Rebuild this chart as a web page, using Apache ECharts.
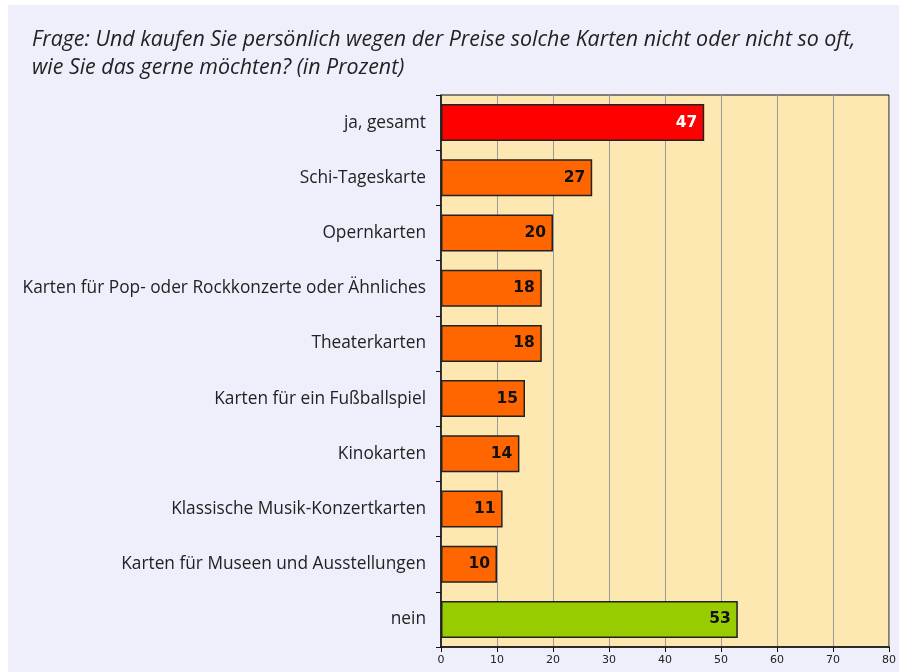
<!DOCTYPE html>
<html><head><meta charset="utf-8">
<script src="https://cdn.jsdelivr.net/npm/echarts@6/dist/echarts.min.js"></script>
<style>
html,body{margin:0;padding:0;background:#ffffff;}
#c{position:absolute;left:8px;top:5px;width:891px;height:667px;}
</style></head>
<body><div id="c"></div>
<script>
const titleText = 'Frage: Und kaufen Sie persönlich wegen der Preise solche Karten nicht oder nicht so oft,\nwie Sie das gerne möchten? (in Prozent)';
const categories = ['ja, gesamt','Schi-Tageskarte','Opernkarten','Karten für Pop- oder Rockkonzerte oder Ähnliches','Theaterkarten','Karten für ein Fußballspiel','Kinokarten','Klassische Musik-Konzertkarten','Karten für Museen und Ausstellungen','nein'];
const values = [47,27,20,18,18,15,14,11,10,53];
const barColors = ['#ff0000','#ff6600','#ff6600','#ff6600','#ff6600','#ff6600','#ff6600','#ff6600','#ff6600','#99cc00'];
const labelColors = ['#ffffff','#111111','#111111','#111111','#111111','#111111','#111111','#111111','#111111','#111111'];
const xMin = 0, xMax = 80, xStep = 10;

const chart = echarts.init(document.getElementById('c'));
chart.setOption({
  backgroundColor: '#efeffc',
  animation: false,
  title: {
    text: titleText, left: 19, top: 16,
    textStyle: {fontFamily: 'Open Sans', fontStyle: 'italic', fontWeight: 'normal', fontSize: 21.4, color: '#222', lineHeight: 28}
  },
  grid: {left: 433, right: 8, top: 90, bottom: 25, show: true, backgroundColor: '#fde8b2', borderColor: '#111', borderWidth: 1},
  xAxis: {
    type: 'value', min: xMin, max: xMax, interval: xStep,
    axisLine: {show: true, lineStyle: {color: '#111', width: 1.5}},
    axisTick: {show: true, length: 5, lineStyle: {color: '#111'}},
    axisLabel: {fontFamily: 'DejaVu Sans', fontSize: 11, color: '#222', margin: 8},
    splitLine: {show: true, lineStyle: {color: '#9a9a9a', width: 1}}
  },
  yAxis: {
    type: 'category', data: categories, inverse: true,
    axisLine: {show: true, lineStyle: {color: '#111', width: 1.5}},
    axisTick: {show: true, length: 5, lineStyle: {color: '#111'}},
    axisLabel: {fontFamily: 'Open Sans', fontSize: 17.3, color: '#222', margin: 15}
  },
  series: [{
    type: 'bar', barCategoryGap: '33%',
    data: values.map((v, i) => ({
      value: v,
      itemStyle: {color: barColors[i], borderColor: '#222', borderWidth: 1.5},
      label: {color: labelColors[i]}
    })),
    label: {show: true, position: 'insideRight', distance: 7, fontFamily: 'DejaVu Sans', fontWeight: 'bold', fontSize: 15.5}
  }]
});
</script></body></html>
